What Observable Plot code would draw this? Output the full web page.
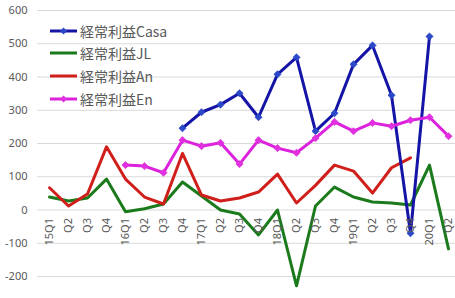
<!DOCTYPE html>
<html>
<head>
<meta charset="utf-8">
<script src="https://cdn.jsdelivr.net/npm/d3@7"></script>
<script src="https://cdn.jsdelivr.net/npm/@observablehq/plot@0.6"></script>
<style>
  html, body { margin: 0; padding: 0; background: #fff; }
  #wrap { position: relative; width: 455px; height: 298px; overflow: hidden; }
  #legend { position: absolute; left: 49px; top: 0; font-family: "Noto Sans CJK JP", "Noto Sans", sans-serif; font-size: 14px; color: #595959; }
  .row { position: absolute; left: 0; display: flex; align-items: center; white-space: nowrap; height: 20px; }
  .row svg { margin-right: 2px; }
</style>
</head>
<body>
<div id="wrap"><div id="legend"></div></div>
<script>
const labels = ["15Q1","Q2","Q3","Q4","16Q1","Q2","Q3","Q4","17Q1","Q2","Q3","Q4","18Q1","Q2","Q3","Q4","19Q1","Q2","Q3","Q4","20Q1","Q2"];
const seriesNames = ["経常利益Casa","経常利益JL","経常利益An","経常利益En"];
const casa = [null,null,null,null,null,null,null,246,294,317,351,279,408,459,237,291,438,495,345,-70,522,null];
const jl   = [39,27,36,93,-5,4,18,84,42,0,-12,-75,0,-228,12,69,39,24,21,15,135,-117];
const an   = [67,12,48,190,93,39,18,170,45,27,36,54,108,21,74,135,117,51,127,157,null,null];
const en   = [null,null,null,null,135,132,112,210,192,202,138,210,186,172,216,265,237,262,252,270,279,222];
const yTicks = [-200,-100,0,100,200,300,400,500,600];

const colors = {"経常利益Casa":"#1414a6","経常利益JL":"#1b7a1b","経常利益An":"#d01e1a","経常利益En":"#dd22dd"};
const markerColors = {"経常利益Casa":"#2a48c8","経常利益En":"#e030e0"};
const hasMarker = {"経常利益Casa":true,"経常利益JL":false,"経常利益An":false,"経常利益En":true};

const values = {"経常利益Casa":casa,"経常利益JL":jl,"経常利益An":an,"経常利益En":en};
const drawOrder = ["経常利益JL","経常利益An","経常利益Casa","経常利益En"];

const toRows = name => values[name].map((v, i) => ({i, v: v == null ? NaN : v, name}));

const marks = [
  Plot.ruleY(yTicks, {stroke: "#d9d9d9", strokeWidth: 1, insetLeft: -2})
];
for (const name of drawOrder) {
  const rows = toRows(name);
  marks.push(Plot.line(rows, {x: "i", y: "v", stroke: colors[name], strokeWidth: 3, strokeLinejoin: "round", strokeLinecap: "round"}));
  if (hasMarker[name]) {
    marks.push(Plot.dot(rows.filter(d => !isNaN(d.v)), {x: "i", y: "v", symbol: "diamond2", r: 3.2, fill: markerColors[name], stroke: markerColors[name], strokeWidth: 0.8}));
  }
}
marks.push(Plot.text(labels.map((t, i) => ({i, t})), {
  x: "i", y: () => 0, text: "t", rotate: -90, textAnchor: "end", lineAnchor: "middle",
  dy: 8, fill: "#595959", fontSize: 11, fontFamily: "Noto Sans, sans-serif"
}));

const chart = Plot.plot({
  width: 455,
  height: 298,
  marginTop: 10,
  marginBottom: 22,
  marginLeft: 39,
  marginRight: 0,
  style: {fontFamily: "Noto Sans, sans-serif", fontSize: "11px", color: "#595959", background: "#fff", overflow: "visible"},
  x: {type: "point", domain: d3.range(labels.length), range: [39, 457], padding: 0.5, axis: null},
  y: {domain: [-200, 600], ticks: yTicks, tickSize: 0, tickPadding: 12, label: null, tickFormat: d => String(d)},
  marks
});
document.getElementById("wrap").prepend(chart);
chart.style.position = "absolute";
chart.style.left = "0";
chart.style.top = "0";

const legend = document.getElementById("legend");
const rowTops = [21, 43, 66, 89];
seriesNames.forEach((name, k) => {
  const row = document.createElement("div");
  row.className = "row";
  row.style.top = rowTops[k] + "px";
  const ns = "http://www.w3.org/2000/svg";
  const s = document.createElementNS(ns, "svg");
  s.setAttribute("width", 29); s.setAttribute("height", 10);
  const l = document.createElementNS(ns, "line");
  l.setAttribute("x1", 1); l.setAttribute("x2", 28); l.setAttribute("y1", 5); l.setAttribute("y2", 5);
  l.setAttribute("stroke", colors[name]); l.setAttribute("stroke-width", 3);
  s.appendChild(l);
  if (hasMarker[name]) {
    const p = document.createElementNS(ns, "path");
    p.setAttribute("d", "M14.5,1.5L18,5L14.5,8.5L11,5Z");
    p.setAttribute("fill", markerColors[name]);
    s.appendChild(p);
  }
  row.appendChild(s);
  const t = document.createElement("span");
  t.textContent = name;
  row.appendChild(t);
  legend.appendChild(row);
});
</script>
</body>
</html>
